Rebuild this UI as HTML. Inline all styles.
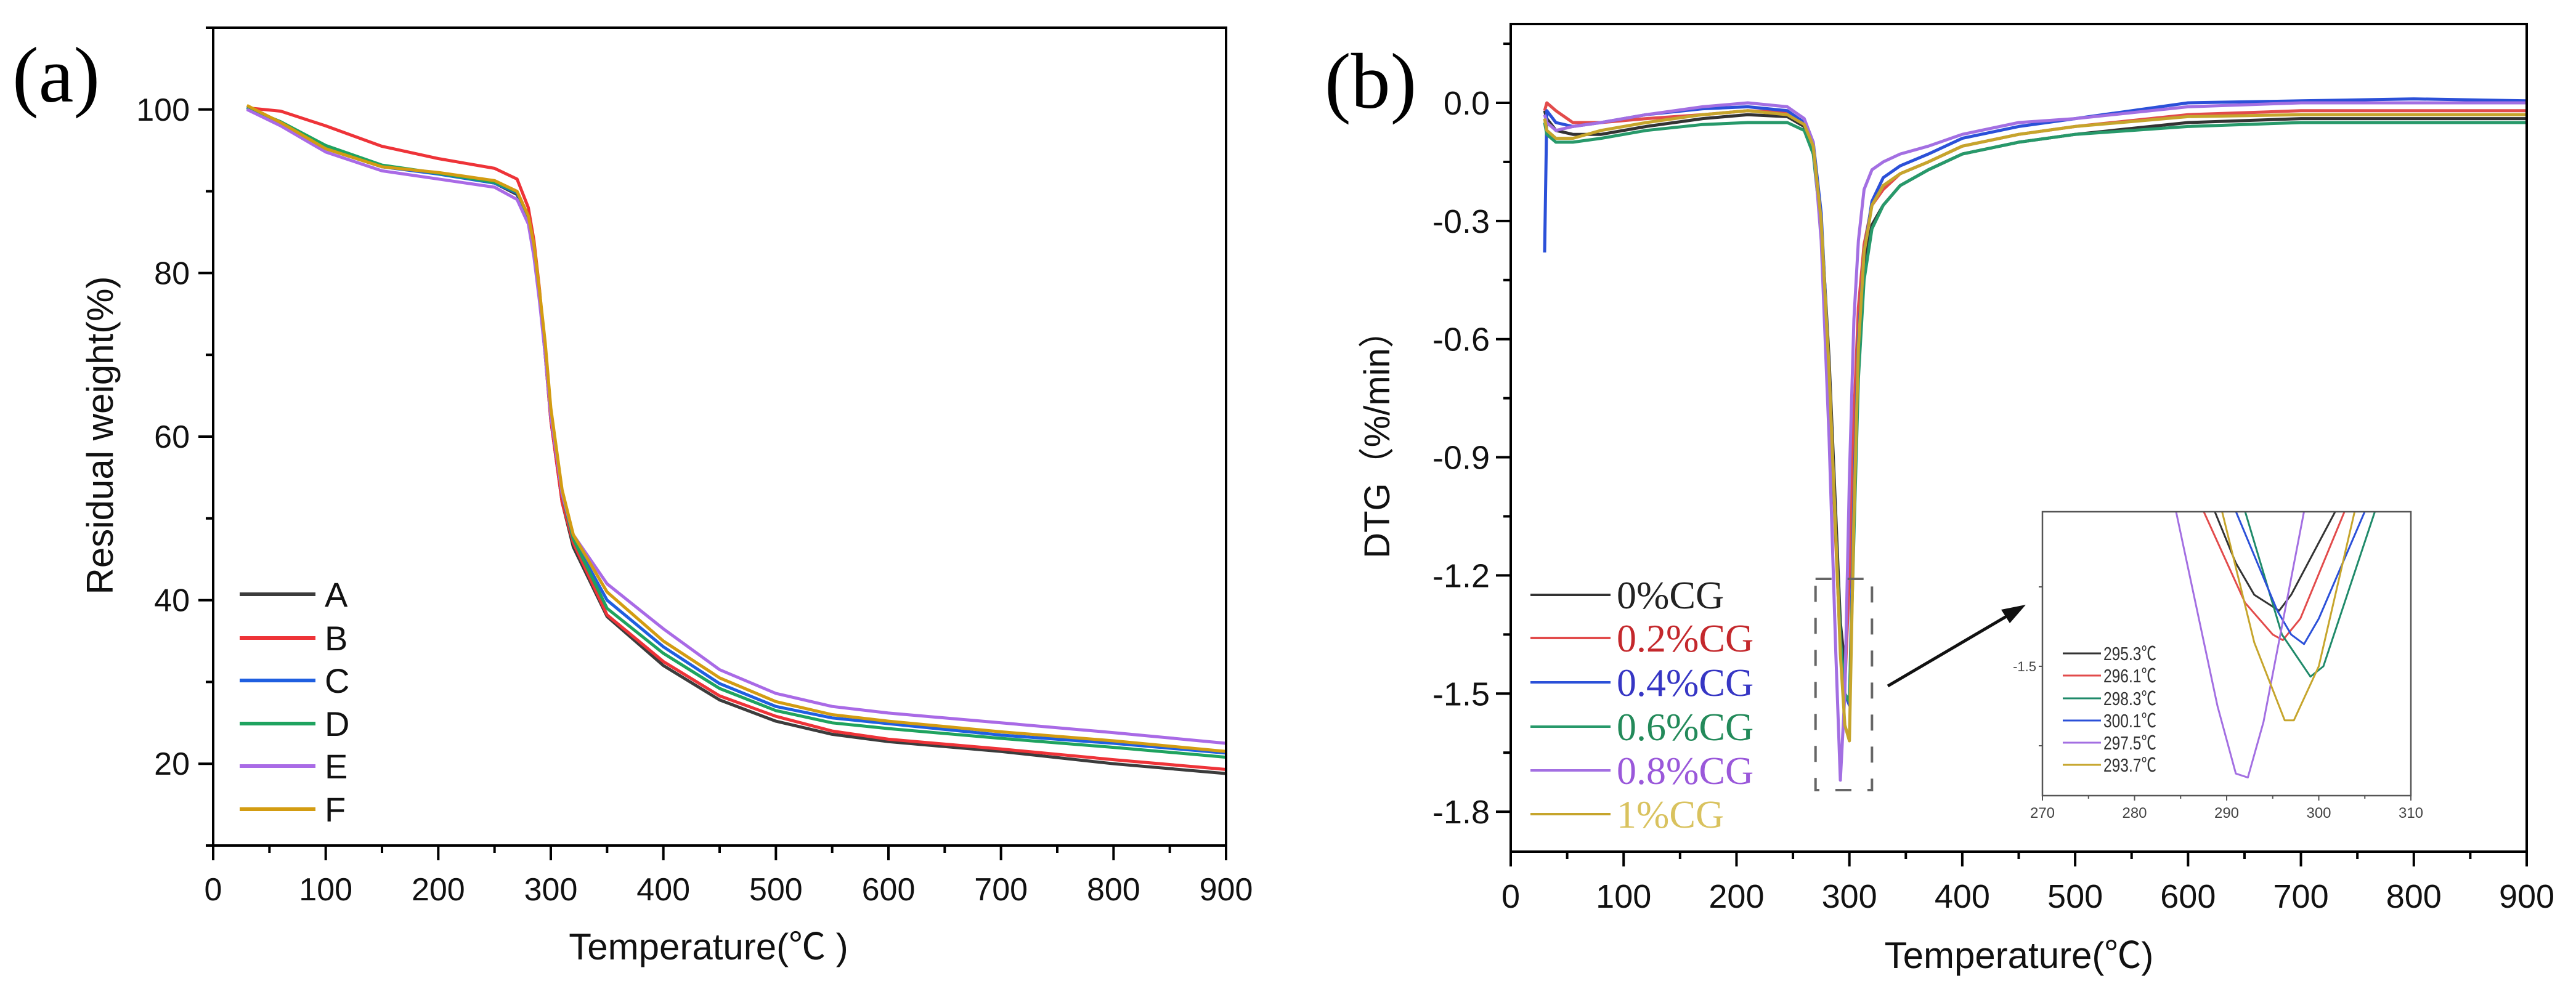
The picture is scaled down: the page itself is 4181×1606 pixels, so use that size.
<!DOCTYPE html>
<html><head><meta charset="utf-8">
<style>
html,body{margin:0;padding:0;background:#fff;}
svg{display:block;}
text{font-family:"Liberation Sans","Noto Sans CJK SC",sans-serif;}
.serif{font-family:"Liberation Serif","Noto Serif CJK SC",serif;}
</style></head>
<body>
<svg id="fig" xmlns="http://www.w3.org/2000/svg" width="4181" height="1606" viewBox="0 0 4181 1606">
<rect x="0" y="0" width="4181" height="1606" fill="#fff"/>
</svg>
<script>
// ---------- Panel (a) TGA data ----------
const tgaSeries = ['A','B','C','D','E','F'];
const tgaColors = ['#3c3c3c','#ee3338','#1f5fe0','#1fa35f','#a96ae6','#d39c12'];
const tgaT = [30,60,100,150,200,250,270,280,285,290,295,300,310,320,350,400,450,500,550,600,700,800,900];
const tgaA = [100.3,98.2,95.2,93.0,92.2,91.0,89.6,86.5,82.5,77,70,62,52,46.5,38,32,27.8,25.2,23.6,22.7,21.5,20.0,18.8];
const tgaB = [100.2,99.8,98.0,95.5,94.0,92.8,91.5,88.0,84,78,70,62,52,47,38.2,32.5,28.3,25.8,24.0,23.0,21.8,20.5,19.3];
const tgaC = [100.3,98.3,95.3,93.0,92.1,91.0,89.8,86.8,83,77.5,71,63,53,47.5,40,34.3,29.8,27.0,25.6,24.9,23.5,22.5,21.3];
const tgaD = [100.2,98.5,95.6,93.2,92.2,91.1,89.9,86.8,83,77.5,71,63,53,47.5,39,33.5,29.2,26.5,25.0,24.3,23.1,22.0,20.8];
const tgaE = [100.0,98.0,94.8,92.5,91.5,90.5,89.0,86.0,82,76.5,70,62.5,53,48,42,36.5,31.5,28.6,27.0,26.2,25.0,23.8,22.5];
const tgaF = [100.5,98.4,95.2,93.0,92.3,91.3,90.0,87.0,83.5,77.8,71.5,63.5,53.5,48,41,35,30.5,27.6,26.0,25.2,23.9,22.8,21.5];
const tgaVals = [tgaA,tgaB,tgaC,tgaD,tgaE,tgaF];
const tgaXTicks = [0,100,200,300,400,500,600,700,800,900];
const tgaYTicks = [20,40,60,80,100];

// ---------- Panel (b) DTG data ----------
const dtgLabels = ['0%CG','0.2%CG','0.4%CG','0.6%CG','0.8%CG','1%CG'];
const dtgColors = ['#333333','#e24b4b','#2b50d8','#27996a','#a36fe2','#c6a52c'];
const dtgTextColors = ['#222222','#c4282c','#3636c4','#238a5a','#9a58da','#d9c25e'];
const dtgT = [30,32,40,55,80,120,170,210,245,260,268,275,282,288,292,296,300,304,308,313,320,330,345,370,400,450,500,600,700,800,900];
const dtg0 = [-0.02,-0.04,-0.07,-0.08,-0.08,-0.06,-0.04,-0.03,-0.035,-0.06,-0.12,-0.3,-0.65,-1.05,-1.32,-1.43,-1.2,-0.85,-0.6,-0.42,-0.31,-0.26,-0.21,-0.17,-0.13,-0.1,-0.08,-0.05,-0.04,-0.04,-0.04];
const dtg02 = [-0.02,0.0,-0.02,-0.05,-0.05,-0.04,-0.03,-0.02,-0.025,-0.05,-0.11,-0.3,-0.7,-1.12,-1.38,-1.48,-1.2,-0.8,-0.52,-0.36,-0.26,-0.22,-0.18,-0.15,-0.11,-0.08,-0.06,-0.03,-0.02,-0.02,-0.02];
const dtg04 = [-0.38,-0.02,-0.05,-0.06,-0.05,-0.03,-0.015,-0.01,-0.02,-0.05,-0.1,-0.28,-0.68,-1.1,-1.38,-1.5,-1.53,-1.0,-0.6,-0.38,-0.25,-0.19,-0.16,-0.13,-0.09,-0.06,-0.04,0.0,0.005,0.01,0.005];
const dtg06 = [-0.05,-0.08,-0.1,-0.1,-0.09,-0.07,-0.055,-0.05,-0.05,-0.07,-0.13,-0.32,-0.7,-1.1,-1.36,-1.5,-1.52,-1.1,-0.7,-0.45,-0.32,-0.26,-0.21,-0.17,-0.13,-0.1,-0.08,-0.06,-0.05,-0.05,-0.05];
const dtg08 = [-0.03,-0.05,-0.07,-0.06,-0.05,-0.03,-0.01,0.0,-0.01,-0.04,-0.1,-0.35,-0.85,-1.4,-1.72,-1.5,-0.95,-0.55,-0.35,-0.22,-0.17,-0.15,-0.13,-0.11,-0.08,-0.05,-0.04,-0.01,0.0,0.0,0.0];
const dtg1 = [-0.04,-0.07,-0.09,-0.09,-0.07,-0.05,-0.03,-0.02,-0.03,-0.055,-0.11,-0.3,-0.68,-1.1,-1.4,-1.58,-1.62,-1.05,-0.62,-0.38,-0.26,-0.21,-0.18,-0.15,-0.11,-0.08,-0.06,-0.035,-0.03,-0.03,-0.03];
const dtgVals = [dtg0,dtg02,dtg04,dtg06,dtg08,dtg1];
const dtgXTicks = [0,100,200,300,400,500,600,700,800,900];
const dtgYTicks = [0.0,-0.3,-0.6,-0.9,-1.2,-1.5,-1.8];
const dtgYTickLabels = ['0.0','-0.3','-0.6','-0.9','-1.2','-1.5','-1.8'];

// ---------- Inset data ----------
const insetLabels = ['295.3℃','296.1℃','298.3℃','300.1℃','297.5℃','293.7℃'];
const insetLegendColors = ['#333333','#e24b4b','#1f8a6a','#2b50d8','#a36fe2','#c6a52c'];
const insetCurveColors = ['#333333','#e24b4b','#1f8a6a','#2b50d8','#a36fe2','#c6a52c'];
const insT0 = [288.7,291,293,295.7,297,301.8];
const insV0 = [-1.305,-1.37,-1.41,-1.43,-1.41,-1.305];
const insT1 = [287.5,292,295,296.1,298,302.8];
const insV1 = [-1.305,-1.42,-1.46,-1.467,-1.44,-1.305];
const insT2 = [292,296,299.1,300.5,306.1];
const insV2 = [-1.305,-1.46,-1.513,-1.5,-1.305];
const insT3 = [291,295.5,297,298.4,300,305];
const insV3 = [-1.305,-1.43,-1.46,-1.472,-1.44,-1.305];
const insT4 = [284.5,289,291,292.3,294,298.4];
const insV4 = [-1.305,-1.55,-1.635,-1.64,-1.57,-1.305];
const insT5 = [289.5,293,296.3,297.3,300,303.9];
const insV5 = [-1.305,-1.47,-1.568,-1.568,-1.5,-1.305];
const insTs = [insT0,insT1,insT2,insT3,insT4,insT5];
const insVs = [insV0,insV1,insV2,insV3,insV4,insV5];
const insXTicks = [270,280,290,300,310];

// ---------- axis functions ----------
const xa = t => 346 + t * 1644 / 900;
const ya = v => 1373 - (v - 10) * 13.28;
const xb = t => 2452 + t * 1649 / 900;
const yb = v => 167 - v * 639.5;
const xi = t => 3315 + (t - 270) * 598 / 40;
const yi = v => 1082 - (v + 1.5) * 1290;

const NS = 'http://www.w3.org/2000/svg';
const svg = document.getElementById('fig');
function mk(tag, attrs, parent) {
  const e = document.createElementNS(NS, tag);
  for (const k in attrs) e.setAttribute(k, attrs[k]);
  (parent || svg).appendChild(e);
  return e;
}
function txt(str, attrs, parent) {
  const e = mk('text', attrs, parent);
  e.textContent = str;
  return e;
}

// ================= Panel (a) =================
const ga = mk('g', {});



let el;
el = txt('(a)', {x: 20, y: 165, 'font-size': 128, class: 'serif', fill: '#000'}, ga);



tgaVals.forEach((vals, i) => {
  const pts = tgaT.map((t, j) => xa(t).toFixed(1) + ',' + ya(vals[j]).toFixed(1)).join(' ');
  const pl = mk('polyline', {points: pts, fill: 'none', stroke: tgaColors[i], 'stroke-width': 5, 'stroke-linejoin': 'round'}, ga);
  
  
});

el = mk('rect', {x: 346, y: 45, width: 1644, height: 1328, fill: 'none', stroke: '#000', 'stroke-width': 4}, ga);



for (let t = 0; t <= 900; t += 50) {
  const major = t % 100 === 0;
  const tk = mk('line', {x1: xa(t), x2: xa(t), y1: 1373, y2: 1373 + (major ? 24 : 12), stroke: '#000', 'stroke-width': 4}, ga);
  
  
}
tgaXTicks.forEach(t => {
  const lb = txt(String(t), {x: xa(t), y: 1462, 'font-size': 52, 'text-anchor': 'middle', fill: '#111'}, ga);
  
  
});
for (let v = 10; v <= 110; v += 10) {
  const major = v % 20 === 0;
  const tk = mk('line', {x1: 346 - (major ? 24 : 12), x2: 346, y1: ya(v), y2: ya(v), stroke: '#000', 'stroke-width': 4}, ga);
  
  
}
tgaYTicks.forEach(v => {
  const lb = txt(String(v), {x: 308, y: ya(v) + 18, 'font-size': 52, 'text-anchor': 'end', fill: '#111'}, ga);
  
  
});
el = txt('Temperature(℃ )', {x: 1150, y: 1558, 'font-size': 60, 'text-anchor': 'middle', fill: '#111'}, ga);


el = txt('Residual weight(%)', {x: 0, y: 0, 'font-size': 60, 'text-anchor': 'middle', fill: '#111', transform: 'translate(183,707) rotate(-90)'}, ga);



const legAY = [965, 1036, 1105, 1175, 1244, 1314];
tgaSeries.forEach((s, i) => {
  const ln = mk('line', {x1: 389, x2: 512, y1: legAY[i], y2: legAY[i], stroke: tgaColors[i], 'stroke-width': 6}, ga);
  
  
  const lb = txt(s, {x: 527, y: legAY[i] + 20, 'font-size': 56, fill: '#111'}, ga);
  
  
});

// ================= Panel (b) =================
const gb = mk('g', {});



el = txt('(b)', {x: 2150, y: 175, 'font-size': 128, class: 'serif', fill: '#000'}, gb);



dtgVals.forEach((vals, i) => {
  const pts = dtgT.map((t, j) => xb(t).toFixed(1) + ',' + yb(vals[j]).toFixed(1)).join(' ');
  const pl = mk('polyline', {points: pts, fill: 'none', stroke: dtgColors[i], 'stroke-width': 5, 'stroke-linejoin': 'round'}, gb);
  
  
});

el = mk('rect', {x: 2452, y: 39, width: 1649, height: 1344, fill: 'none', stroke: '#000', 'stroke-width': 4}, gb);



for (let t = 0; t <= 900; t += 50) {
  const major = t % 100 === 0;
  const tk = mk('line', {x1: xb(t), x2: xb(t), y1: 1383, y2: 1383 + (major ? 24 : 12), stroke: '#000', 'stroke-width': 4}, gb);
  
  
}
dtgXTicks.forEach(t => {
  const lb = txt(String(t), {x: xb(t), y: 1474, 'font-size': 54, 'text-anchor': 'middle', fill: '#111'}, gb);
  
  
});
for (let k = -12; k <= 1; k++) {
  const v = k * 0.15;
  const major = k % 2 === 0;
  const tk = mk('line', {x1: 2452 - (major ? 24 : 12), x2: 2452, y1: yb(v), y2: yb(v), stroke: '#000', 'stroke-width': 4}, gb);
  
  
}
dtgYTicks.forEach((v, i) => {
  const lb = txt(dtgYTickLabels[i], {x: 2418, y: yb(v) + 19, 'font-size': 54, 'text-anchor': 'end', fill: '#111'}, gb);
  
  
});
el = txt('Temperature(℃)', {x: 3277, y: 1572, 'font-size': 60, 'text-anchor': 'middle', fill: '#111'}, gb);


el = txt('DTG（%/min）', {x: 0, y: 0, 'font-size': 58, 'text-anchor': 'middle', fill: '#111', transform: 'translate(2255,707) rotate(-90)'}, gb);



const legBY = [966, 1036, 1108, 1180, 1251, 1322];
dtgLabels.forEach((s, i) => {
  const ln = mk('line', {x1: 2484, x2: 2614, y1: legBY[i], y2: legBY[i], stroke: dtgColors[i], 'stroke-width': 4}, gb);
  
  
  const lb = txt(s, {x: 2624, y: legBY[i] + 22, 'font-size': 64, class: 'serif', fill: dtgTextColors[i]}, gb);
  
  
});

el = mk('rect', {x: xb(270), y: 940, width: xb(320) - xb(270), height: 343, fill: 'none', stroke: '#666', 'stroke-width': 4, 'stroke-dasharray': '26,26'}, gb);


el = mk('line', {x1: 3064, y1: 1114, x2: 3270, y2: 993, stroke: '#111', 'stroke-width': 5}, gb);


el = mk('polygon', {points: '3288,982 3248,990 3262,1012', fill: '#111'}, gb);



// ================= Inset =================
const gi = mk('g', {});


el = mk('rect', {x: 3315, y: 831, width: 598, height: 461, fill: '#fff'}, gi);


const defs = mk('defs', {}, gi);
const cp = mk('clipPath', {id: 'insclip'}, defs);
mk('rect', {x: 3315, y: 831, width: 598, height: 461}, cp);
insTs.forEach((ts, i) => {
  const pts = ts.map((t, j) => xi(t).toFixed(1) + ',' + yi(insVs[i][j]).toFixed(1)).join(' ');
  const pl = mk('polyline', {points: pts, fill: 'none', stroke: insetCurveColors[i], 'stroke-width': 3, 'clip-path': 'url(#insclip)', 'stroke-linejoin': 'round'}, gi);
  
  
});
el = mk('rect', {x: 3315, y: 831, width: 598, height: 461, fill: 'none', stroke: '#555', 'stroke-width': 2.5}, gi);


for (let t = 270; t <= 310; t += 5) {
  const major = t % 10 === 0;
  const tk = mk('line', {x1: xi(t), x2: xi(t), y1: 1292, y2: 1292 + (major ? 8 : 5), stroke: '#555', 'stroke-width': 2}, gi);
  
  
}
insXTicks.forEach(t => {
  const lb = txt(String(t), {x: xi(t), y: 1328, 'font-size': 24, 'text-anchor': 'middle', fill: '#444'}, gi);
  
  
});
[-1.4, -1.5, -1.6].forEach(v => {
  const tk = mk('line', {x1: 3309, x2: 3315, y1: yi(v), y2: yi(v), stroke: '#555', 'stroke-width': 2}, gi);
  
  
});
el = txt('-1.5', {x: 3305, y: yi(-1.5) + 8, 'font-size': 22, 'text-anchor': 'end', fill: '#444'}, gi);


const legIY = [1061, 1097, 1134, 1170, 1206, 1242];
insetLabels.forEach((s, i) => {
  const ln = mk('line', {x1: 3348, x2: 3410, y1: legIY[i], y2: legIY[i], stroke: insetLegendColors[i], 'stroke-width': 3}, gi);
  
  
  const lb = txt(s, {x: 3414, y: legIY[i] + 11, 'font-size': 31, fill: '#333', textLength: 86, lengthAdjust: 'spacingAndGlyphs'}, gi);
  
  
});
</script>
</body></html>
